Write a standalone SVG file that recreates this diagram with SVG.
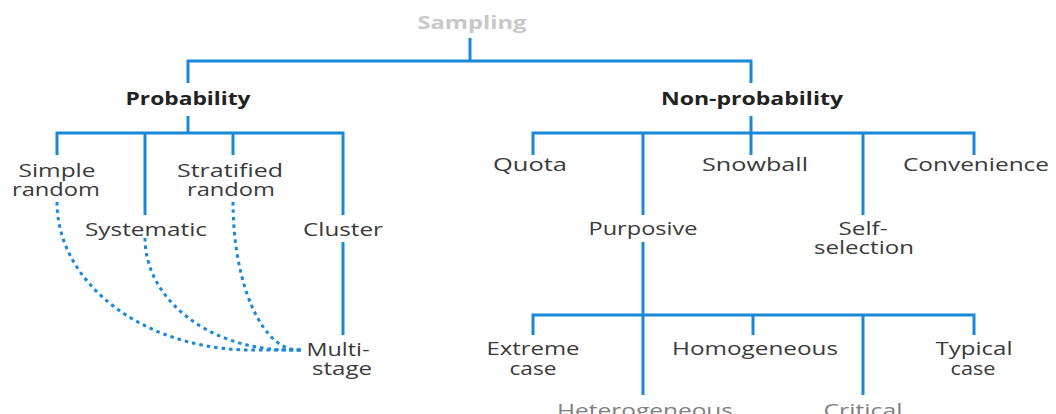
<svg xmlns="http://www.w3.org/2000/svg" width="1056" height="414" viewBox="0 0 1056 414">
  <style>
    .bg { fill: #ffffff; }
    .link { fill: none; stroke: #1a88d8; stroke-width: 3; stroke-linejoin: miter; }
    .dotted { fill: none; stroke: #1a88d8; stroke-width: 3; stroke-dasharray: 3.5 4; }
    text { font-family: "Open Sans", "DejaVu Sans", sans-serif; font-size: 18px; fill: #3a3a3a; text-anchor: middle; }
    .head { font-weight: bold; fill: #222222; }
    .root { font-weight: bold; fill: #c8c8c8; }
    .faint { fill: #808080; }
  </style>
  <rect class="bg" x="0" y="0" width="1056" height="414"/>

  <!-- connectors -->
  <g id="connectors">
    <path class="link" d="M470,38 V61"/>
    <path class="link" d="M188,83 V61 H751 V83"/>
    <!-- probability branch -->
    <path class="link" d="M188,116 V133"/>
    <path class="link" d="M57,155 V133 H343 V215"/>
    <path class="link" d="M145,133 V215"/>
    <path class="link" d="M233,133 V155"/>
    <path class="link" d="M343,242 V335"/>
    <!-- non-probability branch -->
    <path class="link" d="M751,116 V133"/>
    <path class="link" d="M533,155 V133 H974 V155"/>
    <path class="link" d="M643,133 V215"/>
    <path class="link" d="M751,133 V155"/>
    <path class="link" d="M863,133 V215"/>
    <!-- purposive sub-types -->
    <path class="link" d="M643,242 V395"/>
    <path class="link" d="M533,335 V315 H974 V335"/>
    <path class="link" d="M753,315 V335"/>
    <path class="link" d="M863,315 V395"/>
    <!-- dotted links into multi-stage -->
    <path class="dotted" d="M57,202 A195,148 0 0 0 252,350 L303,350"/>
    <path class="dotted" d="M145,238 A145,112 0 0 0 290,350 L303,350"/>
    <path class="dotted" d="M233,202 A65,148 0 0 0 298,350 L303,350"/>
  </g>

  <g id="sampling"><text class="root" x="472" y="29" textLength="109" lengthAdjust="spacingAndGlyphs">Sampling</text></g>
  <g id="probability"><text class="head" x="188" y="105" textLength="125" lengthAdjust="spacingAndGlyphs">Probability</text></g>
  <g id="non-probability"><text class="head" x="752" y="105" textLength="182" lengthAdjust="spacingAndGlyphs">Non-probability</text></g>

  <g id="simple-random">
    <text x="57" y="177" textLength="77" lengthAdjust="spacingAndGlyphs">Simple</text>
    <text x="56" y="196" textLength="88" lengthAdjust="spacingAndGlyphs">random</text>
  </g>
  <g id="stratified-random">
    <text x="230" y="177" textLength="106" lengthAdjust="spacingAndGlyphs">Stratified</text>
    <text x="231" y="196" textLength="88" lengthAdjust="spacingAndGlyphs">random</text>
  </g>
  <g id="systematic"><text x="146" y="236" textLength="122" lengthAdjust="spacingAndGlyphs">Systematic</text></g>
  <g id="cluster"><text x="343" y="236" textLength="80" lengthAdjust="spacingAndGlyphs">Cluster</text></g>
  <g id="multi-stage">
    <text x="338" y="356" textLength="63" lengthAdjust="spacingAndGlyphs">Multi-</text>
    <text x="342" y="375" textLength="60" lengthAdjust="spacingAndGlyphs">stage</text>
  </g>

  <g id="quota"><text x="530" y="171" textLength="74" lengthAdjust="spacingAndGlyphs">Quota</text></g>
  <g id="snowball"><text x="755" y="171" textLength="106" lengthAdjust="spacingAndGlyphs">Snowball</text></g>
  <g id="convenience"><text x="976" y="171" textLength="146" lengthAdjust="spacingAndGlyphs">Convenience</text></g>
  <g id="purposive"><text x="643" y="235" textLength="109" lengthAdjust="spacingAndGlyphs">Purposive</text></g>
  <g id="self-selection">
    <text x="863" y="235" textLength="49" lengthAdjust="spacingAndGlyphs">Self-</text>
    <text x="864" y="254" textLength="100" lengthAdjust="spacingAndGlyphs">selection</text>
  </g>

  <g id="extreme-case">
    <text x="533" y="355" textLength="93" lengthAdjust="spacingAndGlyphs">Extreme</text>
    <text x="533" y="375" textLength="47" lengthAdjust="spacingAndGlyphs">case</text>
  </g>
  <g id="homogeneous"><text x="755" y="355" textLength="166" lengthAdjust="spacingAndGlyphs">Homogeneous</text></g>
  <g id="typical-case">
    <text x="974" y="355" textLength="77" lengthAdjust="spacingAndGlyphs">Typical</text>
    <text x="973" y="375" textLength="45" lengthAdjust="spacingAndGlyphs">case</text>
  </g>
  <g id="heterogeneous"><text class="faint" x="645" y="417" textLength="176" lengthAdjust="spacingAndGlyphs">Heterogeneous</text></g>
  <g id="critical"><text class="faint" x="863" y="417" textLength="79" lengthAdjust="spacingAndGlyphs">Critical</text></g>
</svg>
